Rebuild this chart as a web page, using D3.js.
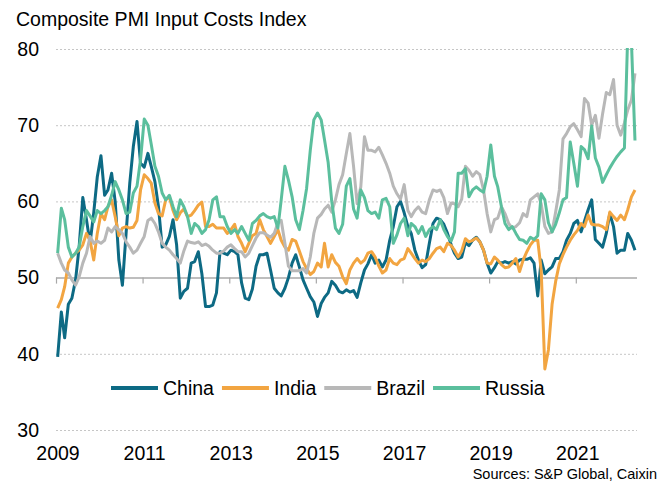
<!DOCTYPE html>
<html>
<head>
<meta charset="utf-8">
<script src="https://cdn.jsdelivr.net/npm/d3@7"></script>
<style>
  body { margin: 0; background: #fff; }
  svg { display: block; font-family: "Liberation Sans", Arial, sans-serif; }
</style>
</head>
<body>
<svg id="chart"></svg>
<script>
// Monthly readings, Jan 2009 - May 2022
const startMonth = [2009, 0];
const seriesNames = ['China', 'India', 'Brazil', 'Russia'];
const seriesColors = ['#0d6a84', '#f2a541', '#b8b8b8', '#5bbf9d'];
const yTicks = [30, 40, 50, 60, 70, 80];
const xTickYears = [2009, 2011, 2013, 2015, 2017, 2019, 2021];

const china = [
  39.6, 45.5, 42.1, 46.5, 47.3, 49.7, 54, 60.5, 57.6, 54.5, 58.5, 63.2,
  66, 60.8, 61.5, 63.7, 60, 52.3, 49, 55.8, 62.4, 67.2, 70.5, 65,
  64.5, 66.3, 64.6, 62.6, 59.3, 54, 54.3, 55.4, 57.6, 54.3, 47.3, 48.2,
  48.6, 51.9, 52.1, 53.4, 50.5, 46.2, 46.2, 46.4, 48, 53.4, 53.2, 53,
  53.6, 53.4, 53, 49.3, 47.3, 47.1, 48.5, 51.5, 53, 53, 53.2, 51,
  48.6, 48, 47.6, 48.6, 50, 51.9, 53, 51.4, 49.7, 48.6, 47.5, 46.8,
  44.9, 46.6, 47.4, 48, 49.5, 49, 48.2, 48, 48.4, 48.1, 48.3, 47.4,
  49.3, 51, 51.8, 53, 51.9, 52.3, 51.4, 52.3, 54.9, 56.7, 59.3, 60,
  58.5, 56.7, 55.8, 53.6, 52.3, 51.3, 51.7, 54.5, 57.1, 57.8, 57.6, 57,
  55.8, 54.3, 53.2, 52.5, 52.7, 54.6, 54.2, 54.9, 55.3, 54.7, 53.6, 51.9,
  50.6, 51.3, 52.1, 51.9, 52.1, 51.9, 52.1, 51.8, 52.3, 52.4, 52.4, 52.6,
  51.9, 47.6, 52.3, 50.5, 51, 51.4, 52.5, 52.5, 53.4, 54.9, 55.8, 57.1,
  57.5, 56, 57.4, 58.9, 60.2, 55, 54.5, 54, 55.8, 58.4, 56.7, 53.2,
  53.6, 53.6, 55.8, 54.9, 53.6
];
const india = [
  46, 47.1, 48.8, 51.9, 52.7, 53.2, 53.6, 54.3, 55.8, 54.9, 52.3, 55.8,
  58.4, 57.6, 59.3, 60.2, 58, 55.5, 56.5, 56.7, 56.5, 56.6, 57.5, 61.5,
  63.5, 63, 62.4, 59.8, 58.4, 58.1, 60.2, 60.6, 58.8, 57.6, 58.5, 59,
  58, 58.2, 58.8, 59.5, 59.9, 56.7, 56.7, 57, 56.5, 56.5, 56.5, 55.8,
  56.3, 57, 55.4, 54.5, 53.4, 54.5, 55.5, 55.8, 57.6, 56.3, 55.4, 54.5,
  55.4, 56.3, 54.9, 54, 53.6, 55, 54.8, 53.5, 52.1, 51.2, 50.4, 50.8,
  51.9, 51.4, 54.5, 51.4, 53, 52, 51.5, 50.1, 49.2, 51, 51.9, 52.5,
  51.9, 52.3, 53.2, 53.4, 52.7, 51.5, 50.6, 51, 52.5, 51.9, 51.7, 52.3,
  52.5, 53.8, 53.2, 52.5, 51.9, 52.3, 52.1, 52.5, 53.2, 53.8, 54, 53.4,
  54.5, 54.2, 53.6, 52.7, 53.5, 55.1, 54.7, 54.9, 55.2, 54.7, 53.6, 51.9,
  51.8, 52.7, 52.3, 51.7, 51.3, 51.4, 51.9, 52.5, 50.8, 52.3, 53.4, 54.3,
  54.9, 54.9, 51, 38, 40.5, 46.5, 49.5, 51.8, 53, 54, 54.9, 55.6,
  56.2, 57.1, 56.7, 58.2, 57, 56.9, 56.9, 56.7, 56.3, 58.6, 58, 57.5,
  58.2, 57.6, 58.9, 60.6, 61.5
];
const brazil = [
  53.2, 51.9, 51, 50.6, 49.7, 49, 50.1, 51.9, 53.2, 55.4, 54.5, 54.8,
  54.5, 54.9, 56.5, 56, 56.7, 56.3, 55.8, 54.7, 54, 53.2, 53.6, 54.5,
  55.4, 57.5, 57.8, 57.1, 56, 54.5, 54, 53.6, 53, 52.5, 51.9, 53.5,
  54.8, 54.6, 54.5, 54.7, 54.2, 54.4, 54.1, 53.6, 53.2, 53.2, 53.5, 54,
  54.3, 53.8, 53.4, 53.4, 52.7, 53.2, 54.2, 55.2, 55.9, 55.9, 55.6, 55.3,
  55.8, 57.2, 57.5, 54.5, 51.5, 50.9, 50.9, 50.9, 51.2, 50.6, 52.7, 55.8,
  57.8, 58.3, 59, 59.5, 58.6, 60.2, 62.2, 63.5, 66.3, 68.9, 64.6, 59.7,
  61.9, 68.5, 66.7, 66.7, 66.5, 67.1, 66.1, 65, 63.7, 62, 61, 60.3,
  62.2, 58.8, 58, 58.8, 59.3, 58.6, 58.4, 60.2, 61.5, 61.3, 61.5, 60.5,
  58.4, 59.8, 59.7, 59.3, 60.3, 64.6, 64.1, 63.3, 63.9, 63.5, 61.5, 58.4,
  56, 57.6, 57.8, 59.3, 58.4, 57.1, 56.5, 56.7, 57.2, 58.4, 58, 60.2,
  60.6, 61, 59.7, 56.7, 55.8, 56, 58.6, 61.5, 68.2, 68.9, 69.8, 70.2,
  69.4, 68.5, 73.5, 72.9, 70, 71.3, 68.3, 71.5, 74.3, 74, 76, 70,
  68.7, 70.3, 72, 73.3, 76.8
];
const russia = [
  53.2, 59.1, 57.6, 54, 52.7, 53.2, 54, 56.7, 58.8, 58.1, 57.3, 58.8,
  58.4, 58.8, 59.3, 60.8, 62.6, 61.5, 60.2, 58.4, 58.6, 61.1, 62, 65.5,
  70.8, 70, 67.5, 64.6, 63.3, 61.1, 60.2, 60.8, 59.3, 58, 60.2, 59.3,
  58, 55.8, 57.1, 56.7, 55.8, 56.3, 57.6, 60.2, 60.6, 58, 58, 56.7,
  55.8, 56.3, 55.8, 56.7, 55.8, 54.9, 57.1, 57.5, 58.1, 58.4, 58, 57.8,
  58, 56.5, 60.2, 64.6, 62.8, 60.6, 57.6, 56.3, 58.8, 61.7, 66.7, 70.7,
  71.6, 70.7, 68.1, 65.1, 60, 56.5, 55.8, 57, 62, 63, 59, 57.8,
  61.5, 60.5, 58.8, 58.4, 58.6, 57.8, 60.2, 60.4, 59.3, 54.5, 55.6, 57.1,
  57.8, 55.5, 57.1, 56.7, 55.8, 56.7, 55.4, 56.3, 56.7, 56.3, 57.6, 56.3,
  55.4, 54.8, 56, 63.7, 63.7, 64.3, 60.6, 61.5, 61.9, 61.5, 61.2, 63.3,
  67.4, 63.3, 61.9, 59.3, 57.1, 56.3, 56.7, 55.8, 55, 54.9, 54.5, 55.3,
  55, 55.5, 61, 60.2, 57.2, 56, 57, 58.5, 60.2, 60.5, 67.8, 65,
  62, 67.2, 66.8, 65.6, 69.9, 65.7, 64.5, 62.5, 63.5, 64.4, 65.2, 65.9,
  66.5, 67, 82, 81, 68
];
const seriesValues = [china, india, brazil, russia];

const width = 658;
const height = 485;
const plotLeft = 56, plotRight = 637, plotTop = 49, plotBottom = 430;

const svg = d3.select('#chart')
  .attr('width', width)
  .attr('height', height);

const monthDate = i => new Date(startMonth[0], startMonth[1] + i, 15);
const n = china.length;

const x = d3.scaleTime()
  .domain([new Date(startMonth[0], startMonth[1], 1), new Date(startMonth[0], startMonth[1] + n, 1)])
  .range([plotLeft, plotRight]);
const y = d3.scaleLinear()
  .domain([d3.min(yTicks), d3.max(yTicks)])
  .range([plotBottom, plotTop]);

// title
svg.append('text')
  .attr('x', 16)
  .attr('y', 26)
  .style('font-size', '19.5px')
  .style('fill', '#000')
  .text('Composite PMI Input Costs Index');

// y axis with gridlines
const yAxis = svg.append('g')
  .attr('transform', `translate(${plotLeft},0)`)
  .call(d3.axisLeft(y).tickValues(yTicks).tickSize(-(plotRight - plotLeft)).tickPadding(17));
yAxis.select('.domain').remove();
yAxis.selectAll('.tick line')
  .attr('stroke', d => d === 50 ? '#a8a8a8' : '#c6c6c6')
  .attr('stroke-width', d => d === 50 ? 1.5 : 1)
  .attr('stroke-dasharray', d => d === 50 ? null : '2,2');
yAxis.selectAll('.tick text')
  .style('font-size', '19.5px')
  .style('fill', '#000')
  .attr('font-family', null);

// x axis sitting on the 50 line
const xAxis = svg.append('g')
  .attr('transform', `translate(0,${y(50)})`)
  .call(d3.axisBottom(x)
    .tickValues(xTickYears.map(yr => new Date(yr, 0, 1)))
    .tickFormat(d3.timeFormat('%Y'))
    .tickSize(6));
xAxis.select('.domain').remove();
xAxis.selectAll('.tick line').attr('stroke', '#a8a8a8').attr('stroke-width', 1.2);
xAxis.selectAll('.tick text')
  .attr('y', 460 - y(50))
  .attr('dy', null)
  .attr('dx', 1.5)
  .style('font-size', '19.5px')
  .style('fill', '#000')
  .attr('font-family', null);

// lines
svg.append('clipPath').attr('id', 'plotclip')
  .append('rect')
  .attr('x', 0).attr('y', plotTop - 1)
  .attr('width', width).attr('height', plotBottom - plotTop + 2);

const line = d3.line()
  .x((d, i) => x(monthDate(i)))
  .y(d => y(d));

svg.append('g')
  .attr('clip-path', 'url(#plotclip)')
  .selectAll('path')
  .data(seriesValues)
  .enter()
  .append('path')
  .attr('d', line)
  .attr('fill', 'none')
  .attr('stroke', (d, i) => seriesColors[i])
  .attr('stroke-width', 3)
  .attr('stroke-linejoin', 'round');

// legend
const legend = svg.append('g').attr('transform', 'translate(0,388)');
let lx = 111;
seriesNames.forEach((name, i) => {
  legend.append('line')
    .attr('x1', lx).attr('x2', lx + 47)
    .attr('y1', 0).attr('y2', 0)
    .attr('stroke', seriesColors[i])
    .attr('stroke-width', 4);
  const t = legend.append('text')
    .attr('x', lx + 52)
    .attr('y', 7)
    .style('font-size', '19.5px')
    .style('fill', '#000')
    .text(name);
  lx += 52 + t.node().getComputedTextLength() + 8;
});

// source
svg.append('text')
  .attr('x', 657)
  .attr('y', 479)
  .attr('text-anchor', 'end')
  .style('font-size', '14.5px')
  .style('fill', '#000')
  .text('Sources: S&P Global, Caixin');
</script>
</body>
</html>
